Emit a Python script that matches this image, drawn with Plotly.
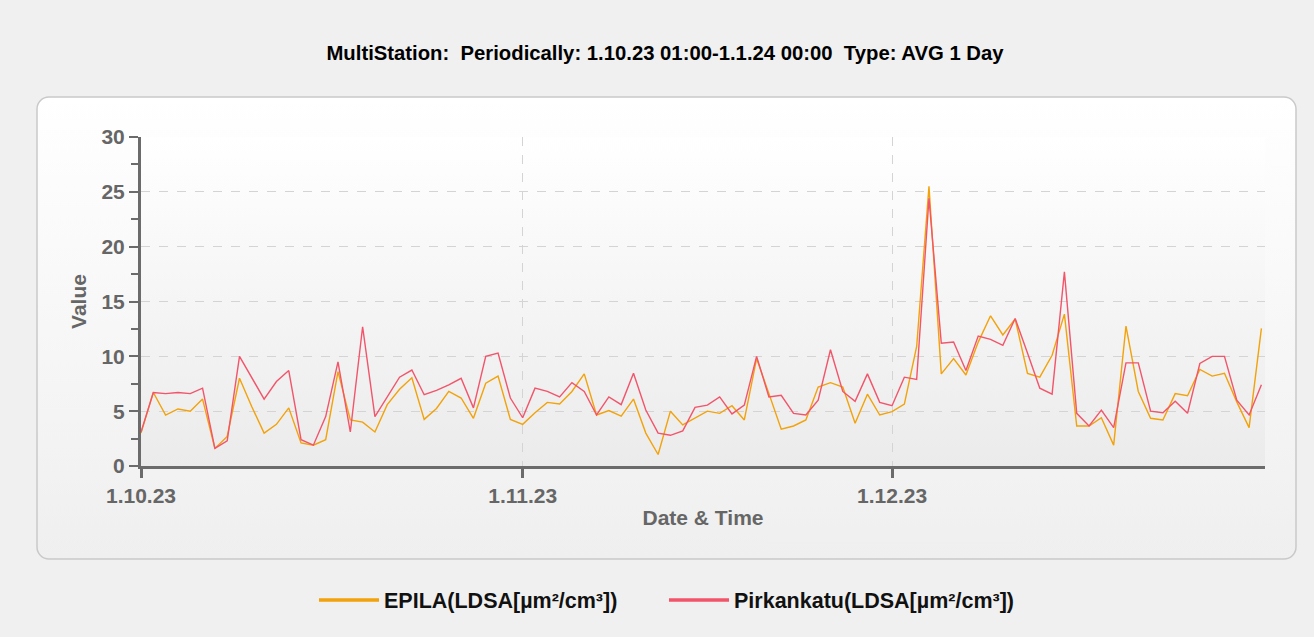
import base64
import pandas as pd
import plotly.graph_objects as go

# daily averages, 1.10.23 - 31.12.23
dates = pd.date_range("2023-10-01", "2023-12-31", freq="D")

epila = [3.0, 6.7, 4.65, 5.2, 5.0, 6.1, 1.6, 2.7, 8.0, 5.4,
         3.0, 3.8, 5.3, 2.1, 1.9, 2.4, 8.6, 4.2, 4.0, 3.1,
         5.6, 7.0, 8.05, 4.25, 5.25, 6.8, 6.2, 4.35, 7.55, 8.2,
         4.25, 3.8, 4.85, 5.8, 5.65, 6.8, 8.4, 4.65, 5.05, 4.55,
         6.1, 3.0, 1.05, 5.0, 3.75, 4.4, 5.0, 4.8, 5.5, 4.2,
         9.8, 6.6, 3.35, 3.65, 4.2, 7.2, 7.6, 7.2, 3.9, 6.55,
         4.65, 4.95, 5.65, 10.9, 25.5, 8.4, 9.8, 8.3, 11.3, 13.7,
         11.95, 13.4, 8.45, 8.1, 10.1, 13.85, 3.65, 3.65, 4.4, 1.9,
         12.75, 6.8, 4.35, 4.2, 6.6, 6.4, 8.8, 8.2, 8.45, 5.85,
         3.5, 12.55]

pirkankatu = [3.1, 6.7, 6.6, 6.7, 6.6, 7.1, 1.6, 2.3, 10.0, 8.0,
              6.1, 7.7, 8.7, 2.4, 1.9, 4.5, 9.5, 3.1, 12.7, 4.5,
              6.3, 8.1, 8.75, 6.5, 6.9, 7.4, 8.0, 5.3, 10.0, 10.3,
              6.2, 4.4, 7.1, 6.8, 6.3, 7.6, 6.8, 4.65, 6.3, 5.6,
              8.45, 5.1, 3.0, 2.8, 3.2, 5.35, 5.55, 6.3, 4.75, 5.55,
              10.0, 6.3, 6.45, 4.8, 4.65, 6.0, 10.6, 6.8, 5.9, 8.4,
              5.8, 5.5, 8.1, 7.9, 24.4, 11.2, 11.3, 8.7, 11.85, 11.55,
              11.0, 13.45, 10.3, 7.1, 6.55, 17.7, 4.8, 3.65, 5.1, 3.5,
              9.4, 9.4, 5.0, 4.85, 5.9, 4.8, 9.35, 10.0, 10.0, 6.0,
              4.65, 7.4]

month_ticks = ["2023-10-01", "2023-11-01", "2023-12-01"]
month_labels = ["1.10.23", "1.11.23", "1.12.23"]

series_names = ["EPILA(LDSA[µm²/cm³])", "Pirkankatu(LDSA[µm²/cm³])"]
series_colors = ["#F2A20A", "#F2546A"]


def svg_uri(svg):
    return "data:image/svg+xml;base64," + base64.b64encode(svg.encode()).decode()


# rounded panel behind the chart, white at top fading to light grey
panel_svg = (
    '<svg xmlns="http://www.w3.org/2000/svg" width="1261" height="464" '
    'viewBox="0 0 1261 464" preserveAspectRatio="none">'
    '<defs><linearGradient id="g" x1="0" y1="0" x2="0" y2="1">'
    '<stop offset="0" stop-color="#ffffff"/><stop offset="1" stop-color="#efefef"/>'
    '</linearGradient></defs>'
    '<rect x="1" y="1" width="1259" height="462" rx="12" ry="12" '
    'fill="url(#g)" stroke="#c9c9c9" stroke-width="1.5"/></svg>'
)

# plot area gradient
area_svg = (
    '<svg xmlns="http://www.w3.org/2000/svg" width="100" height="100" '
    'viewBox="0 0 100 100" preserveAspectRatio="none">'
    '<defs><linearGradient id="h" x1="0" y1="0" x2="0" y2="1">'
    '<stop offset="0" stop-color="#ffffff"/><stop offset="1" stop-color="#ebebeb"/>'
    '</linearGradient></defs>'
    '<rect x="0" y="0" width="100" height="100" fill="url(#h)"/></svg>'
)

fig = go.Figure()

for name, vals, col in zip(series_names, [epila, pirkankatu], series_colors):
    fig.add_trace(go.Scatter(x=dates, y=vals, mode="lines", name=name,
                             line=dict(color=col, width=1.4), showlegend=False))

# legend-only entries with the thicker key line of the original
for name, col in zip(series_names, series_colors):
    fig.add_trace(go.Scatter(x=[None], y=[None], mode="lines", name=name,
                             line=dict(color=col, width=3.5), hoverinfo="skip"))

W, H = 1314, 637
L, R, T, B = 141, 49, 137, 171
pw, ph = W - L - R, H - T - B

def px_x(X):
    return (X - L) / pw

def px_y(Y):
    return (H - B - Y) / ph

axis_font = dict(family="Liberation Sans, Arial", size=21, color="#666666", weight="bold")

fig.update_layout(
    width=W, height=H,
    margin=dict(l=L, r=R, t=T, b=B),
    paper_bgcolor="#f0f0f0",
    plot_bgcolor="rgba(0,0,0,0)",
    title=dict(text="MultiStation:  Periodically: 1.10.23 01:00-1.1.24 00:00  Type: AVG 1 Day",
               font=dict(family="Liberation Sans, Arial", size=20.3, color="#000000", weight="bold"),
               x=665 / W, xanchor="center", y=1 - 53 / H, yanchor="middle"),
    showlegend=True,
    legend=dict(orientation="h", x=px_x(314), xanchor="left", y=px_y(600), yanchor="middle",
                itemwidth=60, entrywidth=275, entrywidthmode="pixels", bgcolor="rgba(0,0,0,0)",
                font=dict(family="Liberation Sans, Arial", size=21.5, color="#111111", weight="bold")),
    images=[
        dict(source=svg_uri(panel_svg), xref="paper", yref="paper",
             x=px_x(36), y=px_y(96), sizex=(1297 - 36) / pw, sizey=(560 - 96) / ph,
             sizing="stretch", xanchor="left", yanchor="top", layer="below"),
        dict(source=svg_uri(area_svg), xref="paper", yref="paper",
             x=0, y=1, sizex=1, sizey=1,
             sizing="stretch", xanchor="left", yanchor="top", layer="below"),
    ],
)

fig.update_xaxes(
    type="date",
    range=["2023-10-01", "2023-12-31 07:00"],
    tickvals=month_ticks, ticktext=month_labels,
    tickfont=axis_font,
    showgrid=True, gridcolor="#d4d4d4", griddash="dash", gridwidth=1,
    showline=True, linecolor="#6b6b6b", linewidth=3,
    ticks="outside", ticklen=9, tickwidth=3, tickcolor="#6b6b6b",
    title=dict(text="Date & Time", font=axis_font, standoff=5),
    zeroline=False,
)

fig.update_yaxes(
    range=[0, 30],
    tickvals=[0, 5, 10, 15, 20, 25, 30],
    tickfont=axis_font,
    showgrid=True, gridcolor="#d4d4d4", griddash="dash", gridwidth=1,
    showline=True, linecolor="#6b6b6b", linewidth=3,
    ticks="outside", ticklen=9, tickwidth=2, tickcolor="#6b6b6b",
    minor=dict(tickvals=[2.5, 7.5, 12.5, 17.5, 22.5, 27.5], ticks="outside",
               ticklen=7, tickwidth=2, tickcolor="#6b6b6b", showgrid=False),
    title=dict(text="Value", font=axis_font, standoff=10),
    zeroline=False,
)

# drop the default page margin so the figure sits at the window corner
fig.write_html("out.html", config={"displayModeBar": False},
               post_script="document.body.style.margin='0';document.body.style.background='#f0f0f0';")
